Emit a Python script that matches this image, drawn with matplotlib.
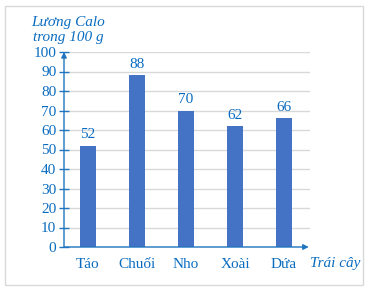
import matplotlib
matplotlib.use('Agg')
import matplotlib.pyplot as plt
from matplotlib.patches import Rectangle

# dữ liệu
fruits = ['Táo', 'Chuối', 'Nho', 'Xoài', 'Dứa']
calories = [52, 88, 70, 62, 66]
y_ticks = list(range(0, 101, 10))

BAR_COLOR = '#4472C4'
TEXT_COLOR = '#0A6CC0'
AXIS_COLOR = '#2075C0'
GRID_COLOR = '#D9D9D9'
FONTSIZE = 11

plt.rcParams['font.family'] = ['Liberation Serif', 'DejaVu Serif']

fig = plt.figure(figsize=(3.71, 2.92), dpi=100)
ax = fig.add_axes([64 / 371, 45 / 292, 246 / 371, 195 / 292])

# khung viền ngoài
fig.patches.append(Rectangle((5 / 371, 7 / 292), 358 / 371, 279 / 292,
                             transform=fig.transFigure, fill=False,
                             edgecolor='#D9D9D9', linewidth=1))

x = list(range(len(fruits)))
bars = ax.bar(x, calories, width=0.33, color=BAR_COLOR, zorder=3)

for xi, v in zip(x, calories):
    ax.annotate(str(v), (xi, v), xytext=(0, 3), textcoords='offset points',
                ha='center', va='bottom', fontsize=FONTSIZE, color=TEXT_COLOR)

ax.set_xlim(-0.49, 4.53)
ax.set_ylim(0, 100)
ax.set_yticks(y_ticks)
ax.set_yticklabels([str(t) for t in y_ticks])
ax.set_xticks(x)
ax.set_xticklabels(fruits)

ax.yaxis.grid(True, color=GRID_COLOR, linewidth=1, zorder=0)
ax.set_axisbelow(True)

for s in ax.spines.values():
    s.set_visible(False)

ax.tick_params(axis='y', direction='inout', length=7, width=1, color=AXIS_COLOR,
               labelcolor=TEXT_COLOR, labelsize=FONTSIZE, pad=2)
ax.tick_params(axis='x', length=0, labelcolor=TEXT_COLOR, labelsize=FONTSIZE, pad=8)

# trục có mũi tên
ax.annotate('', xy=(0, 1.0), xytext=(0, 0), xycoords='axes fraction',
            arrowprops=dict(arrowstyle='-|>', color=AXIS_COLOR, lw=1,
                            mutation_scale=8, shrinkA=0, shrinkB=0), zorder=5)
ax.annotate('', xy=(0.995, 0), xytext=(0, 0), xycoords='axes fraction',
            arrowprops=dict(arrowstyle='-|>', color=AXIS_COLOR, lw=1,
                            mutation_scale=8, shrinkA=0, shrinkB=0), zorder=5)

fig.text(68 / 371, 1 - 30 / 292, 'Lương Calo\ntrong 100 g', ha='center', va='center',
         fontsize=FONTSIZE, style='italic', color=TEXT_COLOR, linespacing=1.2)
fig.text(335 / 371, 1 - 263 / 292, 'Trái cây', ha='center', va='center',
         fontsize=FONTSIZE, style='italic', color=TEXT_COLOR)

fig.savefig('out.png', dpi=100)
